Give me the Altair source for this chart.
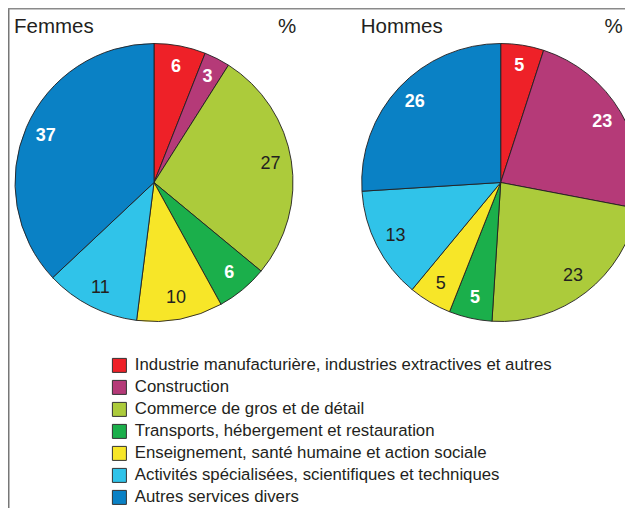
import math
import altair as alt
import pandas as pd

FONT = "Liberation Sans"

categories = [
    "Industrie manufacturière, industries extractives et autres",
    "Construction",
    "Commerce de gros et de détail",
    "Transports, hébergement et restauration",
    "Enseignement, santé humaine et action sociale",
    "Activités spécialisées, scientifiques et techniques",
    "Autres services divers",
]
sexes = ["Femmes", "Hommes"]
femmes = [6, 3, 27, 6, 10, 11, 37]
hommes = [5, 23, 23, 5, 5, 13, 26]
colors = ["#EE2128", "#B53A78", "#ACCB3B", "#1BAF4B", "#F7E628", "#30C3E9", "#0A81C5"]
white_label = [True, True, False, True, False, False, True]

rows = []
for sex, vals in zip(sexes, [femmes, hommes]):
    for i, (cat, v) in enumerate(zip(categories, vals)):
        rows.append({"sex": sex, "category": cat, "order": i, "value": v, "white": white_label[i]})
df = pd.DataFrame(rows)
titles_df = pd.DataFrame({"sex": sexes})
one = pd.DataFrame({"k": [0]})

base = alt.Chart(df).transform_window(
    cum="sum(value)", groupby=["sex"], sort=[alt.SortField("order")], frame=[None, 0]
).transform_calculate(start="datum.cum - datum.value", mid="datum.cum - datum.value / 2")

xenc = alt.X("sex:N", scale=alt.Scale(type="point", domain=sexes, range=[146, 492.7], padding=0), axis=None)
yval = alt.value(174.5)
theta_scale = alt.Scale(domain=[0, 100], range=[0, 2 * math.pi])

arcs = base.mark_arc(radius=139, stroke="#231F20", strokeWidth=0.9).encode(
    x=xenc,
    y=yval,
    theta=alt.Theta("start:Q", scale=theta_scale, stack=None),
    theta2="cum:Q",
    color=alt.Color(
        "category:N",
        scale=alt.Scale(domain=categories, range=colors),
        legend=alt.Legend(
            title=None, orient="none", legendX=103, legendY=349,
            symbolType="square", symbolSize=196, symbolStrokeColor="#333333",
            symbolStrokeWidth=1, symbolOpacity=1,
            labelFont=FONT, labelFontSize=16.8, labelColor="#231F20",
            labelOffset=7, labelLimit=700, rowPadding=3, padding=0,
        ),
    ),
)

labels_white = base.transform_filter("datum.white").mark_text(
    radius=118, fontSize=18, fontWeight="bold", color="white", font=FONT
).encode(x=xenc, y=yval, theta=alt.Theta("mid:Q", scale=theta_scale, stack=None), text="value:Q")

labels_dark = base.transform_filter("!datum.white").mark_text(
    radius=118, fontSize=18, color="#231F20", font=FONT
).encode(x=xenc, y=yval, theta=alt.Theta("mid:Q", scale=theta_scale, stack=None), text="value:Q")

names = alt.Chart(titles_df).mark_text(
    align="left", baseline="alphabetic", fontSize=20.5, dx=-140, color="#231F20", font=FONT
).encode(x=xenc, y=alt.value(24.7), text="sex:N")

pct_f = alt.Chart(titles_df).transform_filter("datum.sex == 'Femmes'").mark_text(
    align="center", baseline="alphabetic", fontSize=20.5, dx=133, color="#231F20", font=FONT
).encode(x=xenc, y=alt.value(24.7), text=alt.value("%"))

pct_h = alt.Chart(titles_df).transform_filter("datum.sex == 'Hommes'").mark_text(
    align="right", baseline="alphabetic", fontSize=20.5, dx=122, color="#231F20", font=FONT
).encode(x=xenc, y=alt.value(24.7), text=alt.value("%"))

left_border = alt.Chart(one).mark_rule(color="#777777", strokeWidth=1.5).encode(
    x=alt.value(0.75), y=alt.value(0), y2=alt.value(500)
)
top_border = alt.Chart(one).mark_rule(color="#8a8a8a", strokeWidth=1.5).encode(
    x=alt.value(0), x2=alt.value(617), y=alt.value(0.75)
)

chart = alt.layer(arcs, labels_white, labels_dark, names, pct_f, pct_h, left_border, top_border).properties(
    width=617, height=500, padding=0, autosize=alt.AutoSizeParams(type="none"), background="white"
).configure_view(stroke=None)

chart.save("out.html", embed_options={"renderer": "svg", "actions": False})
